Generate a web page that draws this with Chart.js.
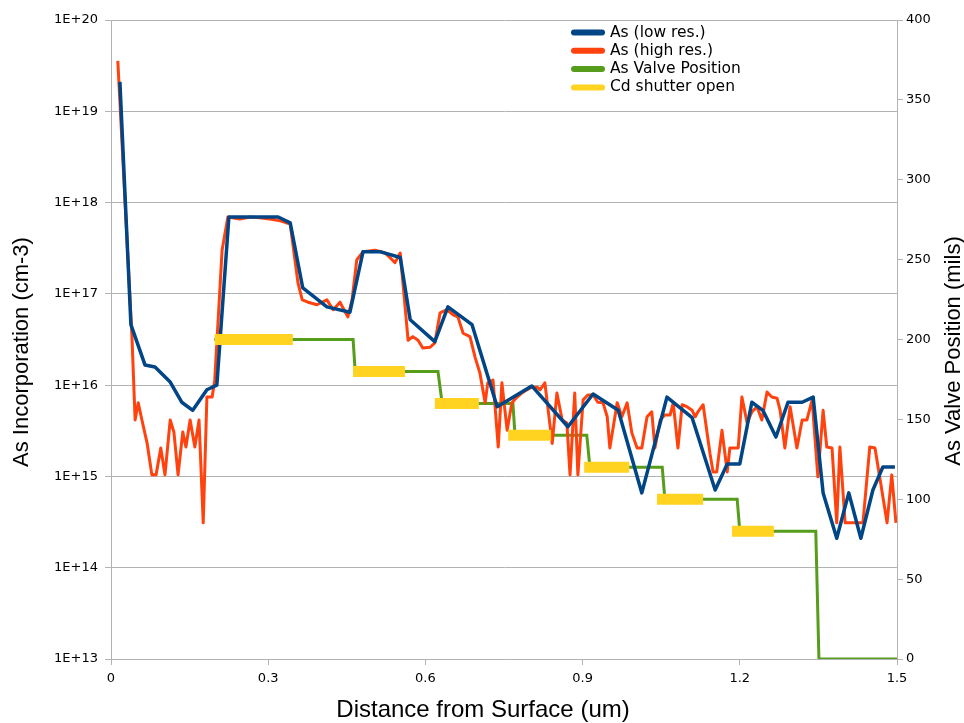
<!DOCTYPE html>
<html>
<head>
<meta charset="utf-8">
<script src="https://cdn.jsdelivr.net/npm/chart.js@4.4.1/dist/chart.umd.min.js"></script>
<style>
  html, body { margin: 0; padding: 0; background: #ffffff; }
  canvas { display: block; }
</style>
</head>
<body>
<canvas id="profile" width="964" height="723"></canvas>
<script>
// Depth profile: As concentration (SIMS, low and high resolution), As valve and Cd shutter timing
const lowResX = [0.017, 0.038, 0.065, 0.084, 0.113, 0.135, 0.156, 0.183, 0.202, 0.225,
                 0.319, 0.342, 0.366, 0.412, 0.456, 0.481, 0.513, 0.552, 0.571, 0.618,
                 0.643, 0.689, 0.737, 0.803, 0.872, 0.920, 0.968, 1.013, 1.061, 1.109,
                 1.153, 1.176, 1.200, 1.223, 1.244, 1.269, 1.292, 1.319, 1.340, 1.359,
                 1.385, 1.408, 1.431, 1.454, 1.473, 1.496];
const lowResY = [2.1e19, 4.6e16, 1.66e16, 1.58e16, 1.08e16, 6.5e15, 5.3e15, 8.9e15, 1.0e16, 6.95e17,
                 6.95e17, 6.0e17, 1.16e17, 7.2e16, 6.3e16, 2.9e17, 2.9e17, 2.5e17, 5.2e16, 3.0e16,
                 7.2e16, 4.6e16, 5.8e15, 9.8e15, 3.5e15, 8.0e15, 5.3e15, 6.6e14, 7.4e15, 4.4e15,
                 7.1e14, 1.37e15, 1.37e15, 6.5e15, 5.3e15, 2.7e15, 6.5e15, 6.5e15, 7.4e15, 6.6e14,
                 2.1e14, 6.6e14, 2.1e14, 7.1e14, 1.27e15, 1.27e15];

const highResX = [0.013, 0.040, 0.046, 0.052, 0.059, 0.069, 0.078, 0.086, 0.095, 0.103,
                  0.113, 0.120, 0.128, 0.137, 0.143, 0.151, 0.160, 0.168, 0.176, 0.183,
                  0.193, 0.198, 0.212, 0.223, 0.246, 0.265, 0.284, 0.303, 0.323, 0.342,
                  0.357, 0.365, 0.376, 0.393, 0.412, 0.424, 0.437, 0.452, 0.460, 0.469,
                  0.481, 0.504, 0.523, 0.532, 0.542, 0.552, 0.567, 0.576, 0.586, 0.595,
                  0.609, 0.618, 0.628, 0.641, 0.653, 0.662, 0.672, 0.685, 0.695, 0.704,
                  0.714, 0.719, 0.729, 0.739, 0.746, 0.756, 0.765, 0.775, 0.784, 0.794,
                  0.803, 0.813, 0.819, 0.828, 0.842, 0.851, 0.861, 0.870, 0.876, 0.885,
                  0.891, 0.901, 0.910, 0.920, 0.929, 0.939, 0.947, 0.952, 0.966, 0.975,
                  0.985, 0.994, 1.004, 1.013, 1.023, 1.032, 1.038, 1.048, 1.057, 1.067,
                  1.073, 1.082, 1.090, 1.099, 1.109, 1.115, 1.120, 1.130, 1.143, 1.149,
                  1.156, 1.166, 1.176, 1.181, 1.197, 1.204, 1.214, 1.223, 1.233, 1.242,
                  1.252, 1.261, 1.271, 1.277, 1.286, 1.296, 1.309, 1.319, 1.328, 1.338,
                  1.349, 1.359, 1.366, 1.376, 1.385, 1.391, 1.401, 1.424, 1.435, 1.448,
                  1.458, 1.468, 1.481, 1.490, 1.498];
const highResY = [3.56e19, 3.4e16, 4.15e15, 6.4e15, 4.15e15, 2.3e15, 1.04e15, 1.04e15, 2.05e15, 1.04e15,
                  4.15e15, 3.07e15, 1.04e15, 3.07e15, 2.1e15, 4.15e15, 2.1e15, 4.15e15, 3.1e14, 7.4e15,
                  7.4e15, 1.14e16, 3.0e17, 6.95e17, 6.6e17, 6.95e17, 6.8e17, 6.6e17, 6.3e17, 5.8e17,
                  1.3e17, 8.6e16, 8.1e16, 7.6e16, 8.6e16, 6.7e16, 8.1e16, 5.6e16, 8.6e16, 2.35e17,
                  2.9e17, 3.0e17, 2.8e17, 2.5e17, 2.2e17, 2.8e17, 3.1e16, 3.4e16, 3.1e16, 2.55e16,
                  2.6e16, 2.9e16, 6.2e16, 6.7e16, 5.9e16, 5.6e16, 3.7e16, 3.4e16, 2.0e16, 1.36e16,
                  6.4e15, 1.06e16, 1.14e16, 2.1e15, 1.06e16, 3.2e15, 6.4e15, 7.4e15, 8.2e15, 8.9e15,
                  9.5e15, 9.5e15, 8.9e15, 1.06e16, 2.3e15, 8.2e15, 4.15e15, 3.85e15, 1.04e15, 8.2e15,
                  1.04e15, 6.9e15, 7.8e15, 7.8e15, 6.5e15, 6.4e15, 4.5e15, 2.05e15, 6.4e15, 4.5e15,
                  6.4e15, 3.0e15, 2.05e15, 2.05e15, 4.5e15, 5.1e15, 2.05e15, 4.15e15, 4.7e15, 4.7e15,
                  6.4e15, 2.05e15, 6.1e15, 5.8e15, 5.3e15, 4.5e15, 5.1e15, 6.1e15, 1.8e15, 1.12e15,
                  1.12e15, 3.2e15, 1.12e15, 2.05e15, 2.05e15, 7.4e15, 3.85e15, 5.1e15, 5.8e15, 4.15e15,
                  8.4e15, 7.4e15, 7.2e15, 5.3e15, 2.05e15, 5.8e15, 2.05e15, 4.15e15, 4.15e15, 6.9e15,
                  9.9e14, 5.3e15, 2.1e15, 2.05e15, 3.1e14, 2.1e15, 3.1e14, 3.1e14, 3.1e14, 2.1e15,
                  2.05e15, 9.1e14, 3.1e14, 1.04e15, 3.1e14];

// As valve position (mils), stepped down after each Cd shutter opening
const valveX = [0.197, 0.462, 0.466, 0.624, 0.632, 0.767, 0.771, 0.908, 0.914, 1.052,
                1.057, 1.195, 1.200, 1.345, 1.351, 1.500];
const valveY = [200, 200, 180, 180, 160, 160, 140, 140, 120, 120,
                100, 100, 80, 80, 0, 0];

// Cd shutter open intervals, drawn at the valve setting in use
const shutterStart = [0.198, 0.462, 0.618, 0.758, 0.903, 1.042, 1.185];
const shutterEnd   = [0.347, 0.561, 0.702, 0.840, 0.989, 1.130, 1.265];
const shutterLevel = [200, 180, 160, 140, 120, 100, 80];

const xTicks = [0, 0.3, 0.6, 0.9, 1.2, 1.5];
const xTickLabels = ['0', '0.3', '0.6', '0.9', '1.2', '1.5'];
const yTicks = [1e13, 1e14, 1e15, 1e16, 1e17, 1e18, 1e19, 1e20];
const yTickLabels = ['1E+13', '1E+14', '1E+15', '1E+16', '1E+17', '1E+18', '1E+19', '1E+20'];

const seriesNames = ['As (low res.)', 'As (high res.)', 'As Valve Position', 'Cd shutter open'];
const xTitle = 'Distance from Surface (um)';
const yTitle = 'As Incorporation (cm-3)';
const y2Title = 'As Valve Position (mils)';

const zip = (xs, ys) => xs.map((x, i) => ({ x: x, y: ys[i] }));

const shutterPoints = [];
shutterStart.forEach((s, i) => {
  shutterPoints.push({ x: s, y: shutterLevel[i] });
  shutterPoints.push({ x: shutterEnd[i], y: shutterLevel[i] });
  if (i < shutterStart.length - 1) shutterPoints.push({ x: (shutterEnd[i] + shutterStart[i + 1]) / 2, y: null });
});

const GRID = '#b3b3b3';
const TICK_FONT = { family: 'DejaVu Sans', size: 13 };

// Legend box and axis titles, drawn on top of the plot
const overlay = {
  id: 'overlay',
  afterDraw(chart) {
    const ctx = chart.ctx;
    const area = chart.chartArea;
    ctx.save();
    ctx.font = '15.5px "DejaVu Sans"';
    ctx.textBaseline = 'middle';
    ctx.textAlign = 'left';
    const lx = area.left + 463;
    chart.data.datasets.forEach((ds, i) => {
      const y = area.top + 12.5 + i * 18.3;
      ctx.strokeStyle = ds.borderColor;
      ctx.lineWidth = 6;
      ctx.lineCap = 'round';
      ctx.beginPath();
      ctx.moveTo(lx, y);
      ctx.lineTo(lx + 28, y);
      ctx.stroke();
      ctx.fillStyle = '#000000';
      ctx.fillText(ds.label, lx + 36, y);
    });

    ctx.fillStyle = '#000000';
    ctx.textAlign = 'center';
    ctx.textBaseline = 'middle';
    ctx.font = '24px "Liberation Sans"';
    ctx.fillText(xTitle, 483, 710);

    ctx.font = '22px "Liberation Sans"';
    ctx.save();
    ctx.translate(22, 352);
    ctx.rotate(-Math.PI / 2);
    ctx.fillText(yTitle, 0, 0);
    ctx.restore();

    ctx.save();
    ctx.translate(954, 351);
    ctx.rotate(-Math.PI / 2);
    ctx.fillText(y2Title, 0, 0);
    ctx.restore();
    ctx.restore();
  }
};

new Chart(document.getElementById('profile'), {
  type: 'line',
  data: {
    datasets: [
      {
        label: seriesNames[0], data: zip(lowResX, lowResY), yAxisID: 'y',
        borderColor: '#004586', borderWidth: 3.5, pointRadius: 0, tension: 0, order: 1,
        borderJoinStyle: 'round'
      },
      {
        label: seriesNames[1], data: zip(highResX, highResY), yAxisID: 'y',
        borderColor: '#ff420e', borderWidth: 3, pointRadius: 0, tension: 0, order: 2,
        borderJoinStyle: 'round'
      },
      {
        label: seriesNames[2], data: zip(valveX, valveY), yAxisID: 'y2',
        borderColor: '#579d1c', borderWidth: 3, pointRadius: 0, tension: 0, order: 3
      },
      {
        label: seriesNames[3], data: shutterPoints, yAxisID: 'y2',
        borderColor: '#ffd320', borderWidth: 11, pointRadius: 0, tension: 0, order: 0,
        borderCapStyle: 'butt', spanGaps: false
      }
    ]
  },
  options: {
    responsive: false,
    animation: false,
    layout: { padding: { top: 20, left: 0, right: 0, bottom: 0 } },
    plugins: { legend: { display: false }, tooltip: { enabled: false } },
    scales: {
      x: {
        type: 'linear', min: 0, max: 1.5,
        afterBuildTicks: (s) => { s.ticks = xTicks.map(v => ({ value: v })); },
        afterFit: (s) => { s.height = 64; },
        ticks: { callback: (v, i) => xTickLabels[i], color: '#000000', font: TICK_FONT, padding: 6, maxRotation: 0 },
        grid: { drawOnChartArea: false, drawTicks: true, tickLength: 6, color: GRID },
        border: { color: GRID }
      },
      y: {
        type: 'logarithmic', position: 'left', min: 1e13, max: 1e20,
        afterBuildTicks: (s) => { s.ticks = yTicks.map(v => ({ value: v })); },
        afterFit: (s) => { s.width = 111; },
        ticks: { callback: (v, i) => yTickLabels[i], color: '#000000', font: TICK_FONT, padding: 7 },
        grid: { drawOnChartArea: true, drawTicks: true, tickLength: 6, color: GRID },
        border: { color: GRID }
      },
      y2: {
        type: 'linear', position: 'right', min: 0, max: 400,
        afterFit: (s) => { s.width = 67; },
        ticks: { stepSize: 50, color: '#000000', font: TICK_FONT, padding: 3 },
        grid: { drawOnChartArea: false, drawTicks: true, tickLength: 6, color: GRID },
        border: { color: GRID }
      }
    }
  },
  plugins: [overlay]
});
</script>
</body>
</html>
